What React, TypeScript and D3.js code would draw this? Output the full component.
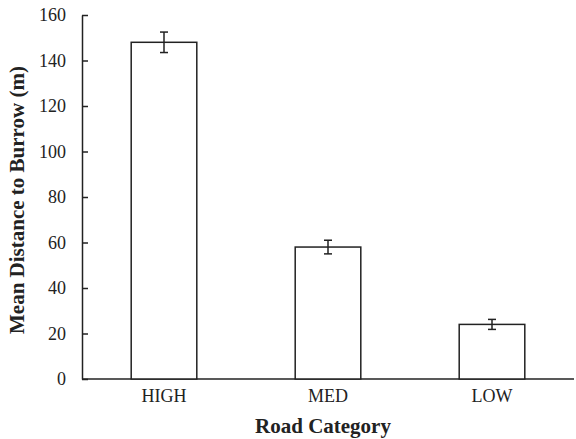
import React, { useEffect, useRef } from 'react';
import { select, scaleLinear, scaleBand, axisLeft } from 'd3';

const categories = ['HIGH', 'MED', 'LOW'];
const means = [148, 58, 24];
const errors = [4.5, 3, 2.2];
const yTicks = [0, 20, 40, 60, 80, 100, 120, 140, 160];

const FONT = '"Liberation Serif", "Times New Roman", serif';

const App = () => {
  const svgRef = useRef<SVGSVGElement>(null);

  useEffect(() => {
    const w = 576;
    const h = 439;
    const left = 82;
    const right = 574;
    const top = 15;
    const bottom = 379;

    const svg = select(svgRef.current)
      .attr('width', w)
      .attr('height', h)
      .style('font-family', FONT);
    svg.selectAll('*').remove();

    const x = scaleBand().domain(categories).range([left, right]).paddingInner(0.6).paddingOuter(0.3);
    const y = scaleLinear().domain([0, 160]).range([bottom, top]);

    const g = svg.append('g').attr('transform', `translate(${left},0)`);
    g.call(axisLeft(y).tickValues(yTicks).tickSizeInner(-6).tickSizeOuter(0).tickPadding(16));
    g.attr('font-family', null).attr('font-size', 18);
    g.selectAll('.domain').attr('stroke', '#222').attr('stroke-width', 1.5);
    g.selectAll('.tick line').attr('stroke', '#222').attr('stroke-width', 1.5);
    g.selectAll('.tick text').attr('fill', '#222').style('font-family', FONT);

    svg.append('line')
      .attr('x1', left).attr('x2', right)
      .attr('y1', bottom).attr('y2', bottom)
      .attr('stroke', '#222').attr('stroke-width', 1.5);

    svg.selectAll('.bar')
      .data(categories)
      .join('rect')
      .attr('class', 'bar')
      .attr('x', d => x(d)!)
      .attr('width', x.bandwidth())
      .attr('y', (d, i) => y(means[i]))
      .attr('height', (d, i) => bottom - y(means[i]))
      .attr('fill', 'white')
      .attr('stroke', '#222')
      .attr('stroke-width', 1.5);

    const eb = svg.selectAll('.err').data(categories).join('g').attr('class', 'err')
      .attr('stroke', '#222').attr('stroke-width', 1.5);
    const cx = (d: string) => x(d)! + x.bandwidth() / 2;
    eb.append('line')
      .attr('x1', cx).attr('x2', cx)
      .attr('y1', (d, i) => y(means[i] + errors[i]))
      .attr('y2', (d, i) => y(means[i] - errors[i]));
    eb.append('line')
      .attr('x1', d => cx(d) - 4).attr('x2', d => cx(d) + 4)
      .attr('y1', (d, i) => y(means[i] + errors[i]))
      .attr('y2', (d, i) => y(means[i] + errors[i]));
    eb.append('line')
      .attr('x1', d => cx(d) - 4).attr('x2', d => cx(d) + 4)
      .attr('y1', (d, i) => y(means[i] - errors[i]))
      .attr('y2', (d, i) => y(means[i] - errors[i]));

    svg.selectAll('.cat')
      .data(categories)
      .join('text')
      .attr('class', 'cat')
      .attr('x', cx)
      .attr('y', 402)
      .attr('text-anchor', 'middle')
      .attr('font-size', 18)
      .attr('fill', '#222')
      .text(d => d);

    svg.append('text')
      .attr('x', 323)
      .attr('y', 433)
      .attr('text-anchor', 'middle')
      .attr('font-size', 21)
      .attr('font-weight', 'bold')
      .attr('fill', '#222')
      .text('Road Category');

    svg.append('text')
      .attr('transform', `translate(24,${(top + bottom) / 2 + 3}) rotate(-90)`)
      .attr('text-anchor', 'middle')
      .attr('font-size', 21)
      .attr('font-weight', 'bold')
      .attr('fill', '#222')
      .text('Mean Distance to Burrow (m)');
  }, []);

  return <svg ref={svgRef} style={{ position: 'absolute', left: 0, top: 0 }}></svg>;
};

export default App;
